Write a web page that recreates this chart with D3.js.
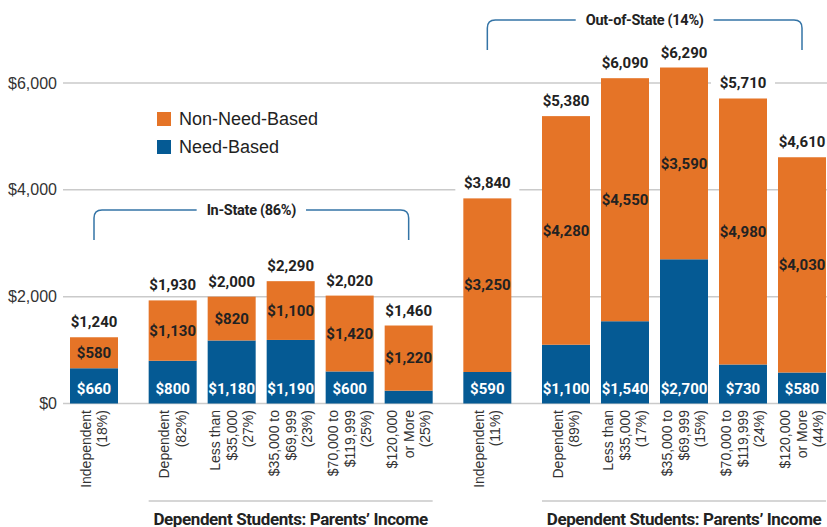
<!DOCTYPE html>
<html>
<head>
<meta charset="utf-8">
<script src="https://cdn.jsdelivr.net/npm/d3@7"></script>
<style>
  body { margin: 0; background: #fff; }
  svg { display: block; font-family: "Liberation Sans", Arial, sans-serif; }
  .bold { font-family: Roboto, "Liberation Sans", sans-serif; font-weight: 700; }
</style>
</head>
<body>
<div id="chart"></div>
<script>
// categories (label lines), grouped by residency
const catLabels = [
  ["Independent", "(18%)"],
  ["Dependent", "(82%)"],
  ["Less than", "$35,000", "(27%)"],
  ["$35,000 to", "$69,999", "(23%)"],
  ["$70,000 to", "$119,999", "(25%)"],
  ["$120,000", "or More", "(25%)"],
  ["Independent", "(11%)"],
  ["Dependent", "(89%)"],
  ["Less than", "$35,000", "(17%)"],
  ["$35,000 to", "$69,999", "(15%)"],
  ["$70,000 to", "$119,999", "(24%)"],
  ["$120,000", "or More", "(44%)"]
];
const groupNames = ["In-State (86%)", "Out-of-State (14%)"];
const groupOf = [0, 0, 0, 0, 0, 0, 1, 1, 1, 1, 1, 1];
const subgroupName = "Dependent Students: Parents\u2019 Income";

// series values
const needBased    = [660, 800, 1180, 1190, 600, 240, 590, 1100, 1540, 2700, 730, 580];
const nonNeedBased = [580, 1130, 820, 1100, 1420, 1220, 3250, 4280, 4550, 3590, 4980, 4030];
const seriesNames = ["Need-Based", "Non-Need-Based"];

const yTicks = [0, 2000, 4000, 6000];

const width = 827, height = 527;
const ORANGE = "#e57427", BLUE = "#055a94", BRACKET = "#3474a6";

const svg = d3.select("#chart").append("svg")
  .attr("width", width)
  .attr("height", height);

// slot index per bar: one extra slot before each group and each "Dependent" bar
var slots = [];
var s = 0;
catLabels.forEach(function(c, i) {
  if (i > 0) {
    s += 3;
    if (groupOf[i] !== groupOf[i - 1] || c[0] === "Dependent") s += 1;
  }
  slots.push(s);
});

const barW = 48;
const x = d3.scaleLinear()
  .domain([0, d3.max(slots)])
  .range([70, 778]);
const y = d3.scaleLinear()
  .domain([0, 6000])
  .range([403.5, 83]);

const fmt = d3.format("$,");

// stack
const rows = catLabels.map(function(c, i) {
  return {i: i, need: needBased[i], non: nonNeedBased[i], total: needBased[i] + nonNeedBased[i]};
});
const stack = d3.stack().keys(["need", "non"])(rows);
const color = d3.scaleOrdinal().domain(["need", "non"]).range([BLUE, ORANGE]);

// gridlines + y labels
const grid = svg.append("g");
grid.selectAll("line")
  .data(yTicks)
  .join("line")
    .attr("x1", 63)
    .attr("x2", width)
    .attr("y1", d => y(d))
    .attr("y2", d => y(d))
    .attr("stroke", "#cacaca")
    .attr("stroke-width", 1.5);
grid.selectAll("text")
  .data(yTicks)
  .join("text")
    .attr("x", 57)
    .attr("y", d => y(d))
    .attr("dy", "0.35em")
    .attr("text-anchor", "end")
    .attr("font-size", 16)
    .attr("fill", "#333")
    .text(d => fmt(d));

// bars
svg.append("g")
  .selectAll("g")
  .data(stack)
  .join("g")
    .attr("fill", d => color(d.key))
  .selectAll("rect")
  .data(d => d)
  .join("rect")
    .attr("x", d => x(slots[d.data.i]))
    .attr("width", barW)
    .attr("y", d => y(d[1]))
    .attr("height", d => y(d[0]) - y(d[1]));

// segment labels
const inner = svg.append("g").attr("class", "bold").attr("font-size", 15).attr("text-anchor", "middle");
inner.selectAll("text.non")
  .data(stack[1])
  .join("text")
    .attr("class", "non")
    .attr("x", d => x(slots[d.data.i]) + barW / 2)
    .attr("y", d => (y(d[0]) + y(d[1])) / 2)
    .attr("dy", "0.35em")
    .attr("fill", "#222")
    .text(d => fmt(d.data.non));
inner.selectAll("text.need")
  .data(stack[0].filter(d => y(d[0]) - y(d[1]) > 20))
  .join("text")
    .attr("class", "need")
    .attr("x", d => x(slots[d.data.i]) + barW / 2)
    .attr("y", y(0) - 15)
    .attr("dy", "0.35em")
    .attr("fill", "#fff")
    .text(d => fmt(d.data.need));

// totals with white backing
const totals = svg.append("g").attr("class", "bold").attr("font-size", 15).attr("text-anchor", "middle");
const tg = totals.selectAll("g")
  .data(rows)
  .join("g")
    .attr("transform", d => "translate(" + (x(slots[d.i]) + barW / 2) + "," + (y(d.total) - 10) + ")");
tg.append("rect")
  .attr("x", -32)
  .attr("y", -15)
  .attr("width", 64)
  .attr("height", 20)
  .attr("fill", "#fff");
tg.append("text")
  .attr("fill", "#222")
  .text(d => fmt(d.total));

// category labels (rotated)
const cats = svg.append("g").attr("font-size", 14).attr("fill", "#333");
catLabels.forEach(function(lines, i) {
  const cx = x(slots[i]) + barW / 2;
  lines.forEach(function(line, j) {
    const off = (j - (lines.length - 1) / 2) * 16.5;
    cats.append("text")
      .attr("transform", "translate(" + (cx + off) + ",410) rotate(-90)")
      .attr("text-anchor", "end")
      .attr("dy", "0.35em")
      .text(line);
  });
});

// "Dependent Students" subgroup rules
groupNames.forEach(function(g, gi) {
  const idx = d3.range(catLabels.length).filter(i => groupOf[i] === gi && catLabels[i][0] !== "Independent");
  const x1 = x(slots[d3.min(idx)]);
  const x2 = x(slots[d3.max(idx)]) + barW;
  svg.append("line")
    .attr("x1", x1).attr("x2", x2)
    .attr("y1", 501).attr("y2", 501)
    .attr("stroke", "#c8c8c8")
    .attr("stroke-width", 1.5);
  svg.append("text")
    .attr("class", "bold")
    .attr("x", (x1 + x2) / 2)
    .attr("y", 524.5)
    .attr("text-anchor", "middle")
    .attr("font-size", 17)
    .attr("letter-spacing", -0.4)
    .attr("fill", "#222")
    .text(subgroupName);
});

// residency brackets
const bracketTop = [210, 20];
groupNames.forEach(function(g, gi) {
  const idx = d3.range(catLabels.length).filter(i => groupOf[i] === gi);
  const x1 = x(slots[d3.min(idx)]) + barW / 2;
  const x2 = x(slots[d3.max(idx)]) + barW / 2;
  const top = bracketTop[gi], r = 8, drop = 30;
  const mid = (x1 + x2) / 2;
  const label = svg.append("text")
    .attr("class", "bold")
    .attr("x", mid)
    .attr("y", top)
    .attr("dy", "0.35em")
    .attr("text-anchor", "middle")
    .attr("font-size", 14.5)
    .attr("letter-spacing", -0.3)
    .attr("fill", "#222")
    .text(g);
  const half = label.node().getComputedTextLength() / 2 + 10;
  const p = d3.path();
  p.moveTo(x1, top + drop);
  p.lineTo(x1, top + r);
  p.quadraticCurveTo(x1, top, x1 + r, top);
  p.lineTo(mid - half, top);
  p.moveTo(mid + half, top);
  p.lineTo(x2 - r, top);
  p.quadraticCurveTo(x2, top, x2, top + r);
  p.lineTo(x2, top + drop);
  svg.append("path")
    .attr("d", p.toString())
    .attr("fill", "none")
    .attr("stroke", BRACKET)
    .attr("stroke-width", 1.5);
});

// legend
const legend = svg.append("g")
  .attr("transform", "translate(157,119)")
  .selectAll("g")
  .data(["non", "need"])
  .join("g")
    .attr("transform", (d, i) => "translate(0," + i * 28 + ")");
legend.append("rect")
  .attr("y", -7)
  .attr("width", 14)
  .attr("height", 14)
  .attr("fill", d => color(d));
legend.append("text")
  .attr("x", 22)
  .attr("dy", "0.35em")
  .attr("font-size", 18)
  .attr("fill", "#222")
  .text(d => d === "non" ? seriesNames[1] : seriesNames[0]);
</script>
</body>
</html>
